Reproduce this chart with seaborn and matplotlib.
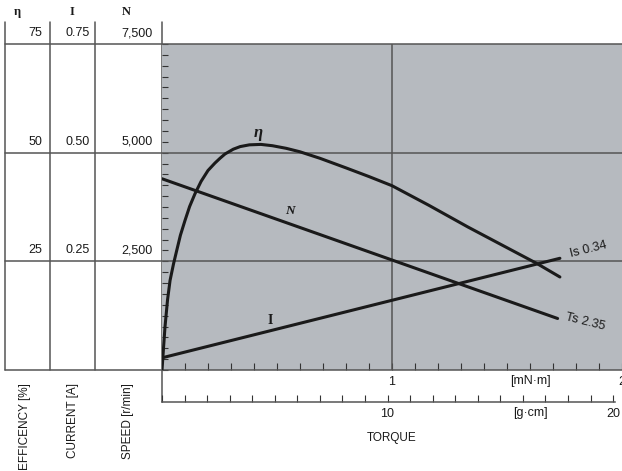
import numpy as np
import pandas as pd
import seaborn as sns
import matplotlib.pyplot as plt
import matplotlib.transforms as mtransforms

sns.set_style('white')
plt.rcParams['font.family'] = ['Liberation Sans', 'DejaVu Sans']

# torque in mN·m, efficiency in %
torque_eff = [0.0, 0.006, 0.013, 0.024, 0.035, 0.05, 0.064, 0.08, 0.10, 0.12, 0.143,
              0.17, 0.20, 0.23, 0.252, 0.274, 0.31, 0.34, 0.38, 0.43, 0.48, 0.54,
              0.60, 0.687, 0.80, 0.90, 1.0, 1.16, 1.33, 1.48, 1.63, 1.73]
efficiency = [0.0, 4.6, 9.9, 16.1, 20.6, 24.4, 27.5, 31.0, 34.4, 37.6, 40.5,
              43.4, 45.9, 47.6, 48.7, 49.7, 50.8, 51.4, 51.8, 51.9, 51.6, 51.0,
              50.2, 48.7, 46.5, 44.5, 42.4, 37.9, 32.9, 28.7, 24.5, 21.4]
# speed (r/min) and current (A), straight lines
torque_speed = [0.0, 1.72]
speed = [4400, 1185]
torque_current = [0.0, 1.73]
current = [0.028, 0.257]

# left scale columns
eff_ticks = [75, 50, 25]
cur_ticks = ['0.75', '0.50', '0.25']
spd_ticks = ['7,500', '5,000', '2,500']

GRAY = '#b6babf'
LINE = '#555555'
INK = '#1a1a1a'
GCM_PER_MNM = 10.197

fig = plt.figure(figsize=(6.22, 4.71), dpi=100)

# overlay in pixel coords for the table on the left
ov = fig.add_axes([0, 0, 1, 1])
ov.set_xlim(0, 622)
ov.set_ylim(471, 0)
ov.axis('off')

ax = fig.add_axes([162 / 622, 1 - 370 / 471, 460 / 622, 326 / 471])
ax.set_facecolor(GRAY)
ax.set_xlim(0, 2)
ax.set_ylim(0, 75)

df_eff = pd.DataFrame({'torque': torque_eff, 'value': efficiency})
df_spd = pd.DataFrame({'torque': torque_speed, 'value': np.array(speed) / 100})
df_cur = pd.DataFrame({'torque': torque_current, 'value': np.array(current) * 100})
for d in (df_eff, df_spd, df_cur):
    sns.lineplot(data=d, x='torque', y='value', ax=ax, color=INK, lw=2.2, zorder=5)
ax.set_xlabel('')
ax.set_ylabel('')

# grid lines, extended into the left table
ext = -157 / 460
for v in [0, 25, 50, 75]:
    ax.axhline(v, xmin=ext, xmax=1, color=LINE, lw=1.1, clip_on=False, zorder=3)
ax.axvline(1, color=LINE, lw=1.1, zorder=3)
for s in ['top', 'right', 'bottom', 'left']:
    ax.spines[s].set_visible(False)

ax.set_yticks(np.arange(0, 75.1, 2.5))
ax.set_yticklabels([])
ax.tick_params(axis='y', left=True, direction='in', length=4, width=0.8, color='#333333')
ax.set_xticks([1, 2])
ax.set_xticklabels(['1', '2'], fontsize=9, color=INK)
ax.set_xticks(np.arange(0, 2.01, 0.1), minor=True)
ax.tick_params(axis='x', which='both', bottom=True, direction='in', length=5, width=0.8,
               color='#333333', pad=4)

# curve labels
ax.text(0.417, 54.5, 'η', family='Liberation Serif', style='italic', weight='bold',
        fontsize=12, ha='center', va='center', color=INK)
ax.text(0.557, 36.5, 'N', family='Liberation Serif', style='italic', weight='bold',
        fontsize=9.5, ha='center', va='center', color=INK)
ax.text(0.47, 11.5, 'I', family='Liberation Serif', weight='bold',
        fontsize=10, ha='center', va='center', color=INK)
ax.text(1.855, 27.6, 'Is 0.34', fontsize=9, rotation=14, ha='center', va='center',
        color=INK, clip_on=False)
ax.text(1.84, 11.0, 'Ts 2.35', fontsize=9, rotation=-14, ha='center', va='center',
        color=INK, clip_on=False)

# g·cm axis below
ax2 = fig.add_axes([162 / 622, 1 - 402 / 471, 460 / 622, 32 / 471])
ax2.patch.set_alpha(0)
ax2.set_xlim(0, 2 * GCM_PER_MNM)
ax2.set_ylim(0, 1)
for s in ['top', 'right', 'left']:
    ax2.spines[s].set_visible(False)
ax2.spines['bottom'].set_color(LINE)
ax2.spines['bottom'].set_linewidth(1.1)
ax2.spines['bottom'].set_bounds(0, 20.1)
ax2.set_yticks([])
ax2.set_xticks([10, 20])
ax2.set_xticklabels(['10', '20'], fontsize=9, color=INK)
ax2.set_xticks(np.arange(0, 20.1, 1), minor=True)
ax2.tick_params(axis='x', which='both', bottom=True, direction='in', length=5, width=0.8,
                color='#333333', pad=4)

# table lines on the left
for x in [5, 50, 95]:
    ov.plot([x, x], [22, 370], color=LINE, lw=1.1)
ov.plot([162, 162], [22, 402], color=LINE, lw=1.1)

for x, t in [(17, 'η'), (72, 'I'), (126, 'N')]:
    ov.text(x, 12, t, family='Liberation Serif', weight='bold', fontsize=9,
            ha='center', va='center', color=INK)

blend = mtransforms.blended_transform_factory(ov.transData, ax.transData)
up = mtransforms.offset_copy(blend, fig=fig, x=0, y=11, units='dots')
for v, c, s in zip(eff_ticks, cur_ticks, spd_ticks):
    ov.text(42, v, str(v), transform=up, fontsize=9, ha='right', va='center', color=INK)
    ov.text(90, v, c, transform=up, fontsize=9, ha='right', va='center', color=INK)
    ov.text(153, v, s, transform=up, fontsize=9, ha='right', va='center', color=INK)

for x, t in [(25, 'EFFICENCY [%]'), (73, 'CURRENT [A]'), (128, 'SPEED [r/min]')]:
    ov.text(x, 383, t, rotation=90, fontsize=8.5, ha='center', va='top', color=INK)

ov.text(530, 381, '[mN·m]', fontsize=9, ha='center', va='center', color=INK)
ov.text(530, 413, '[g·cm]', fontsize=9, ha='center', va='center', color=INK)
ov.text(392, 438, 'TORQUE', fontsize=8.5, ha='center', va='center', color=INK)

fig.savefig('out.png', dpi=100)
